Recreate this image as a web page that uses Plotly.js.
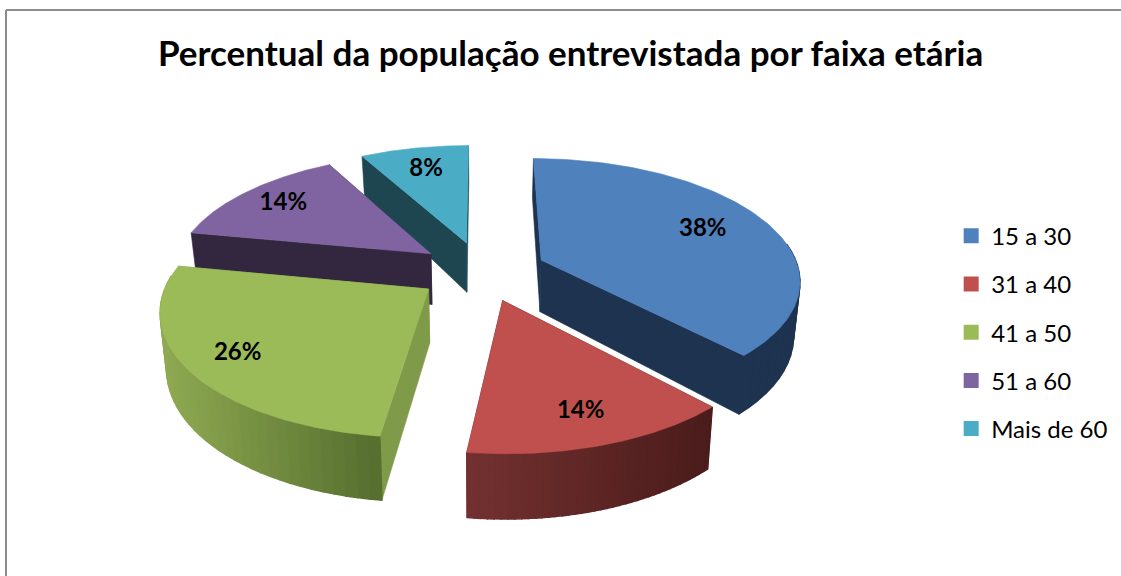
<!DOCTYPE html>
<html>
<head>
<meta charset="utf-8">
<script src="https://cdn.plot.ly/plotly-3.0.1.min.js"></script>
<style>html,body{margin:0;padding:0;background:#fff}#chart{width:1121px;height:576px}</style>
</head>
<body>
<div id="chart"></div>
<script>
var titleText = "Percentual da população entrevistada por faixa etária";
var categories = ["15 a 30", "31 a 40", "41 a 50", "51 a 60", "Mais de 60"];
var values = [38, 14, 26, 14, 8];
var topColors = ["#4f81bd", "#c0504d", "#9bbb59", "#8064a2", "#4bacc6"];
var faceColors = ["#1d334f", "#4e1f1d", "#7f9a49", "#33263f", "#1d4650"];
var rimLight = ["#1d334f", "#733130", "#8faa52", "#33263f", "#1d4650"];
var rimDark = ["#1d334f", "#4a1c1b", "#556d2e", "#33263f", "#1d4650"];
var labelRadius = [0.72, 0.8, 0.81, 0.79, 0.75];

// projection of the tilted, exploded pie
var P = {x0: 482, y0: 271, f: 258, g: 120, D: 6.6, explode: 0.25, h: 53, shrink: 0.98};
function project(X, Y, down) {
  var s = P.D / (P.D + Y);
  var x = P.f * X * s, y = -P.g * Y * s;
  if (down) { x *= P.shrink; y += P.h * (s < 1 ? s * s : s); }
  return [P.x0 + x, P.y0 + y];
}
var total = values.reduce(function (a, b) { return a + b; }, 0);
var slices = [], acc = 0;
values.forEach(function (v, i) {
  var a0 = acc / total * 2 * Math.PI; acc += v;
  var a1 = acc / total * 2 * Math.PI, m = (a0 + a1) / 2;
  slices.push({i: i, a0: a0, a1: a1, ex: P.explode * Math.sin(m), ey: P.explode * Math.cos(m), m: m});
});
function rim(sl, t) {
  var a = sl.a0 + (sl.a1 - sl.a0) * t;
  return [sl.ex + Math.sin(a), sl.ey + Math.cos(a)];
}
function poly(pts, color, w) {
  return {type: "scatter", mode: "lines", x: pts.map(function (p) { return p[0]; }).concat(pts[0][0]),
    y: pts.map(function (p) { return p[1]; }).concat(pts[0][1]), fill: "toself", fillcolor: color,
    line: {color: color, width: w || 0.6}, hoverinfo: "skip", showlegend: false};
}
function hex(c) { return [1, 3, 5].map(function (k) { return parseInt(c.substr(k, 2), 16); }); }
function mix(a, b, t) {
  var A = hex(a), B = hex(b);
  return "rgb(" + A.map(function (v, k) { return Math.round(v + (B[k] - v) * t); }).join(",") + ")";
}
var traces = [];
function radialFace(sl, t, color) {
  var r = rim(sl, t), A = [sl.ex, sl.ey];
  traces.push(poly([project(A[0], A[1]), project(r[0], r[1]), project(r[0], r[1], true), project(A[0], A[1], true)], color));
}
function drawSlice(sl) {
  var i = sl.i;
  radialFace(sl, 0, faceColors[i]);
  radialFace(sl, 1, faceColors[i]);
  var n = 40, k, m = 120;
  var xs = [];
  for (k = 0; k <= n; k++) { xs.push(project.apply(null, rim(sl, k / n))[0]); }
  var xmin = Math.min.apply(null, xs), xmax = Math.max.apply(null, xs);
  for (k = 0; k < n; k++) {
    var p = rim(sl, k / n), q = rim(sl, (k + 1) / n);
    var mid = sl.a0 + (sl.a1 - sl.a0) * (k + 0.5) / n;
    if (Math.cos(mid) > 0.12) continue;
    var t = ((xs[k] + xs[k + 1]) / 2 - xmin) / Math.max(1, xmax - xmin);
    traces.push(poly([project(p[0], p[1]), project(q[0], q[1]), project(q[0], q[1], true), project(p[0], p[1], true)],
      mix(rimLight[i], rimDark[i], t), 1.4));
  }
  var pts = [project(sl.ex, sl.ey)];
  for (k = 0; k <= m; k++) { var r = rim(sl, k / m); pts.push(project(r[0], r[1])); }
  traces.push(poly(pts, topColors[i]));
}
[4, 0, 3, 2, 1].forEach(function (i) { drawSlice(slices[i]); });

// percentage labels
traces.push({type: "scatter", mode: "text", hoverinfo: "skip", showlegend: false,
  x: slices.map(function (s) { return project(s.ex + labelRadius[s.i] * Math.sin(s.m), s.ey + labelRadius[s.i] * Math.cos(s.m))[0]; }),
  y: slices.map(function (s) { return project(s.ex + labelRadius[s.i] * Math.sin(s.m), s.ey + labelRadius[s.i] * Math.cos(s.m))[1]; }),
  text: values.map(function (v) { return "<b>" + v + "%</b>"; }), textposition: "middle center",
  textfont: {family: "Lato, sans-serif", size: 24, color: "#000"}, cliponaxis: false});

// legend entries
categories.forEach(function (c, i) {
  traces.push({type: "scatter", mode: "markers", x: [null], y: [null], name: c, legendgroup: c,
    marker: {symbol: "square", size: 15, color: topColors[i]}, hoverinfo: "skip"});
});

var layout = {
  width: 1121, height: 576, margin: {l: 0, r: 0, t: 0, b: 0},
  paper_bgcolor: "#fff", plot_bgcolor: "#fff",
  title: {text: "<b>" + titleText + "</b>", x: 0.509, xanchor: "center", xref: "paper", y: 0.906, yanchor: "middle",
    font: {family: "Lato, sans-serif", size: 35, color: "#000"}},
  xaxis: {range: [0, 1121], visible: false, fixedrange: true},
  yaxis: {range: [576, 0], visible: false, fixedrange: true},
  legend: {x: 0.8485, y: 0.629, xanchor: "left", yanchor: "top", tracegroupgap: 14,
    bgcolor: "rgba(0,0,0,0)", font: {family: "Lato, sans-serif", size: 24, color: "#000"}},
  shapes: [
    {type: "line", xref: "x", yref: "y", x0: 6, y0: 10, x1: 1121, y1: 10, line: {color: "#8c8c8c", width: 2}},
    {type: "line", xref: "x", yref: "y", x0: 6, y0: 10, x1: 6, y1: 576, line: {color: "#8c8c8c", width: 2}}
  ]
};
Plotly.newPlot("chart", traces, layout, {displayModeBar: false, staticPlot: true});
</script>
</body>
</html>
